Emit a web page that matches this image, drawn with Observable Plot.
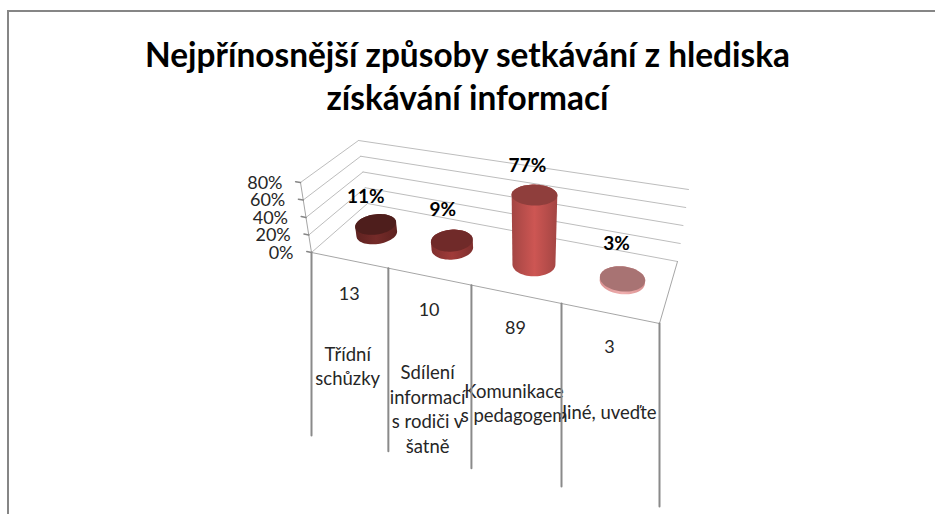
<!DOCTYPE html>
<html lang="cs">
<head>
<meta charset="utf-8">
<script src="https://cdn.jsdelivr.net/npm/d3@7"></script>
<script src="https://cdn.jsdelivr.net/npm/@observablehq/plot@0.6"></script>
<style>
html,body{margin:0;padding:0;background:#fff;width:935px;height:514px;overflow:hidden}
#border{position:absolute;left:7px;top:10px;right:0;bottom:0;border-left:2px solid #868686;border-top:2px solid #868686}
#chart{position:absolute;left:0;top:0}
svg{display:block}
</style>
</head>
<body>
<div id="border"></div>
<div id="chart"></div>
<script>
// ---- data ----
const titleText = "Nejpřínosnější způsoby setkávání z hlediska\nzískávání informací";
const categories = ["Třídní\nschůzky", "Sdílení\ninformací\ns rodiči v\nšatně", "Komunikace\ns pedagogem", "Jiné, uveďte"];
const percents = [11, 9, 77, 3];
const counts = [13, 10, 89, 3];
const valueTicks = [0, 20, 40, 60, 80];

// ---- colours of each cylinder: top cap, side edge, side centre ----
const capColors = ["#4e1e1c", "#702a29", "#8f3e3c", "#a87373"];
const edgeColors = ["#5e2220", "#7f2f2e", "#a34543", "#d99090"];
const midColors = ["#752b29", "#a03b39", "#cd5653", "#f0b0b0"];

// ---- oblique view: projects (category position, depth, value) to the plane ----
const floorQuad = [[311, 252], [659, 323], [677, 261], [367, 203]];
const topQuad = [[300, 182], [672, 244], [688, 189], [358, 140]];
const maxValue = 80, nCat = categories.length, foreshorten = 1.07;

function homography([p0, p1, p2, p3]) {
  const dx1 = p1[0] - p2[0], dx2 = p3[0] - p2[0], sx = p0[0] - p1[0] + p2[0] - p3[0];
  const dy1 = p1[1] - p2[1], dy2 = p3[1] - p2[1], sy = p0[1] - p1[1] + p2[1] - p3[1];
  const den = dx1 * dy2 - dx2 * dy1;
  const g = (sx * dy2 - dx2 * sy) / den, h = (dx1 * sy - sx * dy1) / den;
  const a = p1[0] - p0[0] + g * p1[0], b = p3[0] - p0[0] + h * p3[0];
  const d = p1[1] - p0[1] + g * p1[1], e = p3[1] - p0[1] + h * p3[1];
  return (u, v) => {
    const w = g * u + h * v + 1;
    return [(a * u + b * v + p0[0]) / w, (d * u + e * v + p0[1]) / w];
  };
}
const floorAt = homography(floorQuad), topAt = homography(topQuad);
function project(u0, v, value) {
  const u = u0 / (u0 + foreshorten * (1 - u0));
  const f = floorAt(u, v), t = topAt(u, v), k = value / maxValue;
  return {x: f[0] + (t[0] - f[0]) * k, y: f[1] + (t[1] - f[1]) * k};
}
const seg = (a, b) => [a, b];

// ---- cylinders ----
const radiusU = 0.06, radiusV = 0.2, depth = 0.5;
const angles = d3.range(0, 64).map(i => i / 64 * 2 * Math.PI);
function ring(i, value) {
  const u = (i + 0.5) / nCat;
  return angles.map(a => project(u + radiusU * Math.cos(a), depth + radiusV * Math.sin(a), value));
}
function body(i, value) {
  const pts = [...ring(i, 0), ...ring(i, value)].map(p => [p.x, p.y]);
  return d3.polygonHull(pts).map(([x, y]) => ({x, y}));
}

// ---- wireframe ----
const backGrid = valueTicks.map(t => seg(project(0, 1, t), project(1, 1, t)));
const sideGrid = valueTicks.map(t => seg(project(0, 0, t), project(0, 1, t)));
const tickMarks = valueTicks.map(t => seg(project(-0.016, 0, t), project(0, 0, t)));
const frontEdge = seg(project(0, 0, 0), project(1, 0, 0));
const rightEdge = seg(project(1, 0, 0), project(1, 1, 0));
const leftAxis = seg(project(0, 0, 0), project(0, 0, maxValue));
const dividerDrop = 183;
const dividers = d3.range(nCat + 1).map(i => {
  const p = project(i / nCat, 0, 0);
  return [p, {x: p.x, y: p.y + dividerDrop}];
});

const mid = d3.range(nCat).map(i => project((i + 0.5) / nCat, 0, 0));
const tickRows = valueTicks.map(t => ({...project(0, 0, t), t}));

// small per-label placement nudges, as in the source chart
const percentNudgeX = [-4, -3, -1, 0], percentNudgeY = [4, 1, 2, -4];
const categoryNudgeY = [2, 4, 5, 7];

const FONT = "Lato, Carlito, sans-serif";
const lineMark = (d, stroke, strokeWidth) =>
  Plot.line(d, {x: "x", y: "y", stroke, strokeWidth, curve: "linear"});
const poly = (d, fill) =>
  Plot.line(d, {x: "x", y: "y", fill, stroke: "none", curve: "linear-closed"});

const defs = () => {
  const svg = document.createElementNS("http://www.w3.org/2000/svg", "defs");
  svg.innerHTML = percents.map((_, i) =>
    `<linearGradient id="side${i}" x1="0" x2="1" y1="0" y2="0">
       <stop offset="0" stop-color="${edgeColors[i]}"/>
       <stop offset="0.5" stop-color="${midColors[i]}"/>
       <stop offset="1" stop-color="${edgeColors[i]}"/>
     </linearGradient>`).join("");
  return svg;
};

const chart = Plot.plot({
  width: 935, height: 514,
  margin: 0,
  x: {domain: [0, 935], range: [0, 935], axis: null},
  y: {domain: [0, 514], range: [0, 514], axis: null},
  style: {background: "transparent", color: "#000"},
  marks: [
    defs,
    Plot.text([titleText], {
      x: () => 467, y: () => 74.5, text: d => d, fontFamily: FONT, fontWeight: 700,
      fontSize: 33.4, lineHeight: 1.26, textAnchor: "middle", fill: "#000"
    }),
    ...backGrid.map(d => lineMark(d, "#bdbdbd", 1)),
    ...sideGrid.map(d => lineMark(d, "#bdbdbd", 1)),
    lineMark(frontEdge, "#a6a6a6", 1),
    lineMark(rightEdge, "#a6a6a6", 1),
    lineMark(leftAxis, "#a6a6a6", 1),
    ...tickMarks.map(d => lineMark(d, "#868686", 1.5)),
    Plot.text(tickRows, {
      x: "x", y: "y", text: d => d.t + "%", textAnchor: "end", dx: -18, dy: 0.5,
      fontFamily: FONT, fontSize: 18, fill: "#262626"
    }),
    ...percents.flatMap((v, i) => [
      poly(body(i, v), `url(#side${i})`),
      poly(ring(i, v), capColors[i])
    ]),
    Plot.text(percents.map((v, i) => {
      const p = project((i + 0.5) / nCat, depth, v);
      return {x: p.x + percentNudgeX[i], y: p.y + percentNudgeY[i], v};
    }), {
      x: "x", y: "y", text: d => d.v + "%", dx: -6, dy: -31,
      fontFamily: FONT, fontWeight: 700, fontSize: 19, fill: "#000"
    }),
    Plot.text(counts.map((c, i) => ({...mid[i], c})), {
      x: "x", y: "y", text: d => String(d.c), dy: 34,
      fontFamily: FONT, fontSize: 18, fill: "#262626"
    }),
    Plot.text(categories.map((c, i) => ({x: mid[i].x, y: mid[i].y + categoryNudgeY[i], c})), {
      x: "x", y: "y", text: "c", dx: -1.5, dy: 81.5, lineAnchor: "top", lineHeight: 1.32,
      fontFamily: FONT, fontSize: 18.5, fill: "#262626"
    }),
    ...dividers.map(d => lineMark(d, "#8a8a8a", 2))
  ]
});
document.getElementById("chart").append(chart);
</script>
</body>
</html>
